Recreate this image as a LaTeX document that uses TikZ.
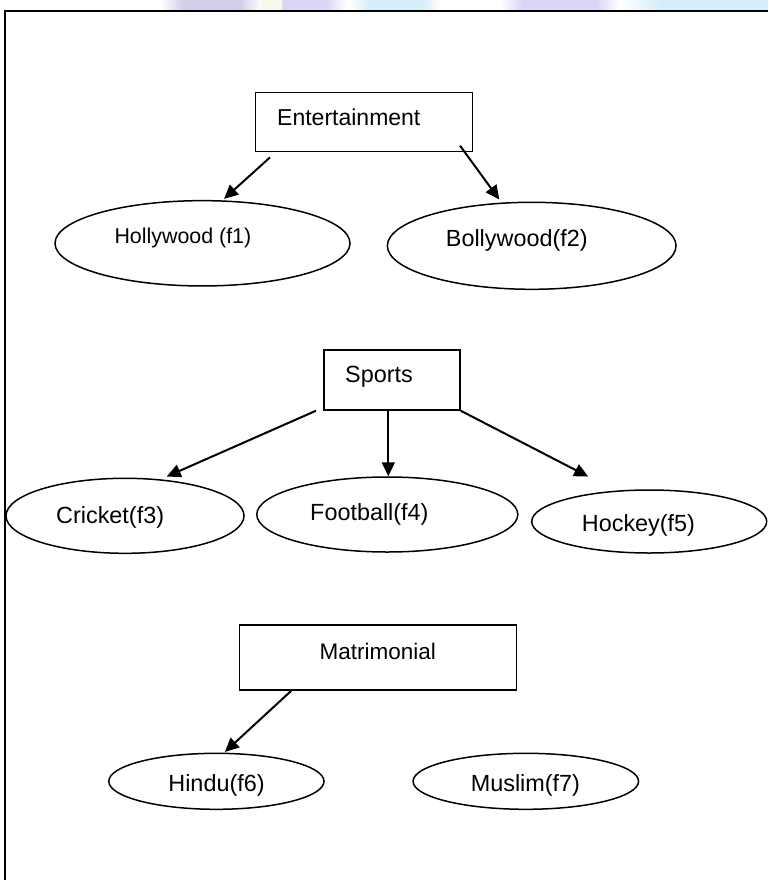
\documentclass[tikz,border=0pt]{standalone}
\usepackage{fontspec}
\setmainfont{Liberation Sans}
\usetikzlibrary{shapes.geometric,arrows.meta,calc}
\definecolor{lavA}{RGB}{208,206,232}
\definecolor{lavB}{RGB}{218,214,246}
\definecolor{cyanA}{RGB}{214,238,250}
\definecolor{creamA}{RGB}{250,248,236}
\begin{document}
\begin{tikzpicture}[x=1pt,y=-1pt,
  box/.style={draw,line width=1.5pt,rectangle,inner sep=0pt},
  oval/.style={draw,line width=1.5pt,ellipse,inner sep=0pt},
  lbl/.style={anchor=base west,inner sep=0pt,font=\fontsize{23.4}{28}\selectfont},
  conn/.style={line width=2pt,-{Triangle[length=14pt,width=13pt]}}]
\useasboundingbox (0,0) rectangle (768,880);
% faint band at the top
\shade[left color=white,right color=lavA] (160,0) rectangle (184,10);
\fill[lavA] (184,0) rectangle (240,10);
\shade[left color=lavA,right color=white] (240,0) rectangle (262,10);
\fill[creamA] (262,0) rectangle (282,10);
\fill[lavB] (282,0) rectangle (326,10);
\shade[left color=lavB,right color=white] (326,0) rectangle (346,10);
\shade[left color=white,right color=cyanA] (350,0) rectangle (368,10);
\fill[cyanA] (368,0) rectangle (422,10);
\shade[left color=cyanA,right color=white] (422,0) rectangle (440,10);
\shade[left color=white,right color=lavB] (500,0) rectangle (522,10);
\fill[lavB] (522,0) rectangle (596,10);
\shade[left color=lavB,right color=white] (596,0) rectangle (620,10);
\shade[left color=white,right color=cyanA] (620,0) rectangle (660,10);
\fill[cyanA] (660,0) rectangle (768,10);
% frame
\draw[line width=1.8pt] (768,11) -- (5,11) -- (5,880);

% Entertainment
\node[box,minimum width=217pt,minimum height=59.4pt] (ent) at (364.2,122) {};
\node[lbl,font=\fontsize{23}{28}\selectfont] (entT) at (277,125.7) {Entertainment};
\node[oval,minimum width=295pt,minimum height=85.3pt] (holly) at (202.5,243.3) {};
\node[lbl,font=\fontsize{21.4}{26}\selectfont] (hollyT) at (114.3,243.3) {Hollywood (f1)};
\node[oval,minimum width=288.7pt,minimum height=87pt] (bolly) at (531.7,245.8) {};
\node[lbl] (bollyT) at (445.7,246) {Bollywood(f2)};
\draw[conn] ($(ent.south west)+(15,5)$) -- ($(holly.north)+(21.5,-1)$);
\draw[conn] ($(ent.south east)+(-13.4,-6.7)$) -- ($(bolly.north)+(-32.4,-2)$);

% Sports
\node[box,minimum width=136pt,minimum height=60pt] (sports) at (392,380) {};
\node[lbl] (sportsT) at (345,382.7) {Sports};
\node[oval,minimum width=238pt,minimum height=75pt] (cricket) at (125,515.8) {};
\node[lbl] (cricketT) at (56,523) {Cricket(f3)};
\node[oval,minimum width=261pt,minimum height=75pt] (football) at (387.3,514.5) {};
\node[lbl] (footballT) at (310,520) {Football(f4)};
\node[oval,minimum width=235pt,minimum height=63pt] (hockey) at (649.2,521.5) {};
\node[lbl] (hockeyT) at (581.7,531.7) {Hockey(f5)};
\draw[conn] ($(sports.south west)+(-7.3,0)$) -- ($(cricket.north)+(41.7,-1)$);
\draw[conn] ($(sports.south)+(-3.7,0)$) -- ($(football.north)+(1,0)$);
\draw[conn] (sports.south east) -- ($(hockey.north)+(-61,-12.7)$);

% Matrimonial
\node[box,minimum width=277.2pt,minimum height=65pt] (matr) at (378.1,657.5) {};
\node[lbl,font=\fontsize{22.5}{27}\selectfont] (matrT) at (319.5,659) {Matrimonial};
\node[oval,minimum width=215.2pt,minimum height=56pt] (hindu) at (216.4,781.3) {};
\node[lbl] (hinduT) at (168.2,791.7) {Hindu(f6)};
\node[oval,minimum width=225.5pt,minimum height=56pt] (muslim) at (525.8,781.3) {};
\node[lbl] (muslimT) at (470.6,791.7) {Muslim(f7)};
\draw[conn] ($(matr.south west)+(52.5,0)$) -- ($(hindu.north)+(8.5,-0.6)$);
\end{tikzpicture}
\end{document}
